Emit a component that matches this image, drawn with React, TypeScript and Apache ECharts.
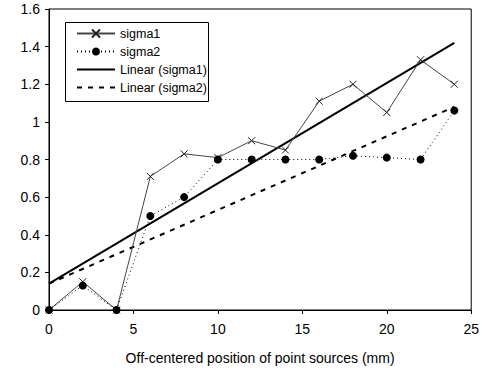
import React, { useEffect, useRef } from "react";
import * as echarts from "echarts";

const xValues = [0, 2, 4, 6, 8, 10, 12, 14, 16, 18, 20, 22, 24];
const sigma1 = [0, 0.15, 0, 0.71, 0.83, 0.81, 0.9, 0.85, 1.11, 1.2, 1.05, 1.33, 1.2];
const sigma2 = [0, 0.13, 0, 0.5, 0.6, 0.8, 0.8, 0.8, 0.8, 0.82, 0.81, 0.8, 1.06];
const linear1X = [0, 24];
const linear1Y = [0.14, 1.42];
const linear2X = [0, 24];
const linear2Y = [0.14, 1.08];
const seriesNames = ["sigma1", "sigma2", "Linear (sigma1)", "Linear (sigma2)"];
const xAxisTitle = "Off-centered position of point sources (mm)";

const pair = (xs: number[], ys: number[]) => xs.map((x, i) => [x, ys[i]]);

export default function App() {
  const ref = useRef<HTMLDivElement>(null);
  useEffect(() => {
    if (!ref.current) return;
    const chart = echarts.init(ref.current, null, { renderer: "svg" });
    const font = "Liberation Sans, Arial, sans-serif";
    chart.setOption({
      animation: false,
      backgroundColor: "#fff",
      textStyle: { fontFamily: font },
      grid: {
        left: 49,
        right: 9,
        top: 9,
        bottom: 57,
        show: true,
        borderColor: "#000",
        borderWidth: 1,
        backgroundColor: "transparent",
      },
      graphic: [
        {
          type: "rect",
          left: 65,
          top: 22,
          shape: { width: 143, height: 79 },
          style: { fill: "#fff", stroke: "#000", lineWidth: 1 },
          z: 0,
          zlevel: 0,
        },
      ],
      legend: {
        data: [
          { name: seriesNames[0] },
          { name: seriesNames[1] },
          { name: seriesNames[2], itemStyle: { opacity: 0 } },
          { name: seriesNames[3], itemStyle: { opacity: 0 } },
        ],
        orient: "vertical",
        left: 65,
        top: 22,
        itemWidth: 38,
        itemHeight: 10,
        itemGap: 5,
        padding: [5, 1, 6, 11],
        borderWidth: 0,
        z: 10,
        textStyle: { fontFamily: font, fontSize: 12.5, color: "#000" },
      },
      xAxis: {
        type: "value",
        min: 0,
        max: 25,
        interval: 5,
        name: xAxisTitle,
        nameLocation: "middle",
        nameGap: 41,
        nameTextStyle: { fontFamily: font, fontSize: 14, color: "#000" },
        axisLine: { lineStyle: { color: "#000", width: 1 } },
        axisTick: { show: true, length: 4, lineStyle: { color: "#000" } },
        axisLabel: { fontFamily: font, fontSize: 14, color: "#000", margin: 12 },
        splitLine: { show: false },
      },
      yAxis: {
        type: "value",
        min: 0,
        max: 1.6,
        interval: 0.2,
        axisLine: { show: true, lineStyle: { color: "#000", width: 1 } },
        axisTick: { show: true, length: 4, lineStyle: { color: "#000" } },
        axisLabel: {
          fontFamily: font,
          fontSize: 14,
          color: "#000",
          margin: 9,
          formatter: (v: number) => String(Math.round(v * 10) / 10),
        },
        splitLine: { show: false },
      },
      series: [
        {
          name: seriesNames[0],
          type: "line",
          data: pair(xValues, sigma1),
          symbol: "path://M0,0L10,10M10,0L0,10",
          symbolSize: 7,
          itemStyle: { color: "none", borderColor: "#222", borderWidth: 1 },
          lineStyle: { color: "#444", width: 1 },
          z: 3,
        },
        {
          name: seriesNames[1],
          type: "line",
          data: pair(xValues, sigma2),
          symbol: "circle",
          symbolSize: 8,
          itemStyle: { color: "#000", borderWidth: 0 },
          lineStyle: { color: "#000", width: 1, type: [1, 3] },
          z: 3,
        },
        {
          name: seriesNames[2],
          type: "line",
          data: pair(linear1X, linear1Y),
          symbol: "none",
          itemStyle: { color: "#000" },
          lineStyle: { color: "#000", width: 2 },
          z: 2,
        },
        {
          name: seriesNames[3],
          type: "line",
          data: pair(linear2X, linear2Y),
          symbol: "none",
          itemStyle: { color: "#000" },
          lineStyle: { color: "#000", width: 2, type: [5, 6] },
          z: 2,
        },
      ],
    });
    return () => chart.dispose();
  }, []);
  return (
    <div
      ref={ref}
      style={{ position: "absolute", left: 0, top: 0, width: 482, height: 370, background: "#fff" }}
    />
  );
}
